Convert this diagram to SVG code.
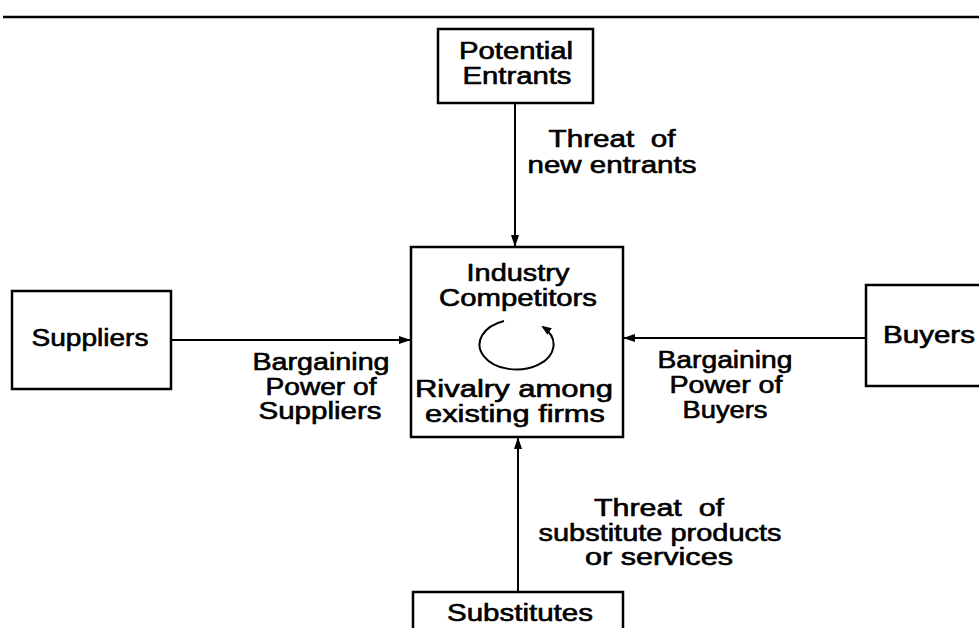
<svg xmlns="http://www.w3.org/2000/svg" width="979" height="628" viewBox="0 0 979 628">
<defs>
<style>
.box{fill:#fff;stroke:#000;stroke-width:2.5}
.ln{fill:none;stroke:#000;stroke-width:2}
text{font-family:"Liberation Sans",Arial,sans-serif;font-size:23px;fill:#000;stroke:#000;stroke-width:0.6;text-anchor:middle}
</style>
<marker id="ah" viewBox="0 0 12 8" refX="12" refY="4" markerWidth="12" markerHeight="8" markerUnits="userSpaceOnUse" orient="auto">
<path d="M0,0 L12,4 L0,8 Z" fill="#000"/>
</marker>
<marker id="ahs" viewBox="0 0 10 8" refX="8" refY="4" markerWidth="10" markerHeight="8" markerUnits="userSpaceOnUse" orient="auto">
<path d="M0,0 L10,4 L0,8 Z" fill="#000"/>
</marker>
</defs>
<rect width="979" height="628" fill="#fff"/>
<line x1="3" y1="17" x2="979" y2="17" stroke="#000" stroke-width="2.5"/>

<g id="connectors">
<line class="ln" x1="515" y1="103" x2="515" y2="247" marker-end="url(#ah)"/>
<line class="ln" x1="518" y1="592" x2="518" y2="437" marker-end="url(#ah)"/>
<line class="ln" x1="171" y1="340" x2="411" y2="340" marker-end="url(#ah)"/>
<line class="ln" x1="866" y1="338" x2="623" y2="338" marker-end="url(#ah)"/>
<text x="612" y="147" textLength="127" lengthAdjust="spacingAndGlyphs" xml:space="preserve">Threat  of</text>
<text x="612" y="173" textLength="169" lengthAdjust="spacingAndGlyphs">new entrants</text>
<text x="321" y="370" textLength="137" lengthAdjust="spacingAndGlyphs">Bargaining</text>
<text x="321" y="395" textLength="111" lengthAdjust="spacingAndGlyphs">Power of</text>
<text x="320" y="419" textLength="123" lengthAdjust="spacingAndGlyphs">Suppliers</text>
<text x="725" y="368" textLength="135" lengthAdjust="spacingAndGlyphs">Bargaining</text>
<text x="726" y="393" textLength="113" lengthAdjust="spacingAndGlyphs">Power of</text>
<text x="725" y="418" textLength="85" lengthAdjust="spacingAndGlyphs">Buyers</text>
<text x="659" y="516" textLength="130" lengthAdjust="spacingAndGlyphs" xml:space="preserve">Threat  of</text>
<text x="660" y="541" textLength="243" lengthAdjust="spacingAndGlyphs">substitute products</text>
<text x="659" y="565" textLength="148" lengthAdjust="spacingAndGlyphs">or services</text>
</g>

<g id="potential-entrants">
<rect class="box" x="438" y="29" width="155" height="74"/>
<text x="516" y="59" textLength="114" lengthAdjust="spacingAndGlyphs">Potential</text>
<text x="517" y="84" textLength="109" lengthAdjust="spacingAndGlyphs">Entrants</text>
</g>

<g id="industry-competitors">
<rect class="box" x="411" y="247" width="212" height="190"/>
<text x="518" y="281" textLength="103" lengthAdjust="spacingAndGlyphs">Industry</text>
<text x="518" y="306" textLength="158" lengthAdjust="spacingAndGlyphs">Competitors</text>
<path class="ln" d="M504,321 A37 25 0 1 0 543,327" marker-end="url(#ahs)"/>
<text x="514" y="397" textLength="198" lengthAdjust="spacingAndGlyphs">Rivalry among</text>
<text x="515" y="422" textLength="180" lengthAdjust="spacingAndGlyphs">existing firms</text>
</g>

<g id="suppliers">
<rect class="box" x="12" y="291" width="159" height="98"/>
<text x="90" y="346" textLength="117" lengthAdjust="spacingAndGlyphs">Suppliers</text>
</g>

<g id="buyers">
<rect class="box" x="866" y="285" width="130" height="101"/>
<text x="929" y="343" textLength="92" lengthAdjust="spacingAndGlyphs">Buyers</text>
</g>

<g id="substitutes">
<rect class="box" x="413" y="592" width="210" height="50"/>
<text x="520" y="621" textLength="146" lengthAdjust="spacingAndGlyphs">Substitutes</text>
</g>
</svg>
